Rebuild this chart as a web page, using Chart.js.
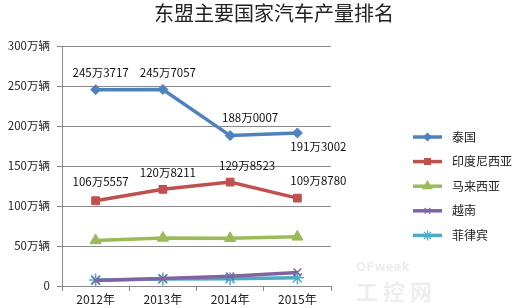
<!DOCTYPE html>
<html>
<head>
<meta charset="utf-8">
<script src="https://cdn.jsdelivr.net/npm/chart.js@4"></script>
<style>
  html, body { margin: 0; padding: 0; background: #fff; }
  #wrap { width: 523px; height: 308px; }
</style>
</head>
<body>
<div id="wrap"><canvas id="c" width="523" height="308"></canvas></div>
<script>
// data (万辆)
const years = ['2012年', '2013年', '2014年', '2015年'];
const countries = ['泰国', '印度尼西亚', '马来西亚', '越南', '菲律宾'];
const thailand = [245.3717, 245.7057, 188.0007, 191.3002];
const indonesia = [106.5557, 120.8211, 129.8523, 109.8780];
const malaysia = [56.96, 60.14, 59.64, 61.47];
const vietnam = [7.0, 9.3, 12.1, 17.0];
const philippines = [7.5, 8.9, 9.2, 10.2];
const thailandLabels = ['245万3717', '245万7057', '188万0007', '191万3002'];
const indonesiaLabels = ['106万5557', '120万8211', '129万8523', '109万8780'];
const yTicks = [0, 50, 100, 150, 200, 250, 300];

const colors = ['#4F81BD', '#C0504D', '#9BBB59', '#8064A2', '#4BACC6'];
const markers = ['rectRot', 'rect', 'triangle', 'crossRot', 'star'];
const markerSize = [5, 5.5, 6.5, 5.5, 6.5];
const FONT = '"Noto Sans CJK SC", "DejaVu Sans", sans-serif';

// label offsets relative to each point [dx, dy]
const thaiOff = [[5, -17], [5, -17], [20, -18], [21, 14]];
const indoOff = [[5, -19], [5, -17], [17, -16], [21, -17]];

function ds(i, data) {
  return {
    label: countries[i],
    data: data,
    borderColor: colors[i],
    backgroundColor: colors[i],
    borderWidth: 3.5,
    pointStyle: markers[i],
    pointRadius: markerSize[i],
    pointBorderWidth: (i >= 3) ? 1.5 : 1,
    pointBorderColor: colors[i],
    pointBackgroundColor: colors[i],
    tension: 0
  };
}

const extras = {
  id: 'extras',
  afterDraw(chart) {
    const ctx = chart.ctx;
    ctx.save();
    // title
    ctx.fillStyle = '#222';
    ctx.font = '20px ' + FONT;
    ctx.textAlign = 'center';
    ctx.textBaseline = 'middle';
    ctx.fillText('东盟主要国家汽车产量排名', 274, 13);

    // data labels
    ctx.font = '11.5px ' + FONT;
    ctx.fillStyle = '#111';
    const sets = [[0, thailandLabels, thaiOff], [1, indonesiaLabels, indoOff]];
    sets.forEach(([di, labels, off]) => {
      chart.getDatasetMeta(di).data.forEach((pt, j) => {
        ctx.fillText(labels[j], pt.x + off[j][0], pt.y + off[j][1]);
      });
    });

    // legend
    const lx = 413, lw = 29, tx = 452;
    const ly0 = 137, step = 24.6;
    countries.forEach((name, i) => {
      const y = ly0 + i * step;
      ctx.strokeStyle = colors[i];
      ctx.lineWidth = 3.5;
      ctx.beginPath();
      ctx.moveTo(lx, y);
      ctx.lineTo(lx + lw, y);
      ctx.stroke();
      ctx.fillStyle = colors[i];
      ctx.lineWidth = 1.3;
      Chart.helpers.drawPoint(ctx, { pointStyle: markers[i], radius: markerSize[i] - 1.5, rotation: 0, borderWidth: 1.3 }, lx + lw / 2, y);
      ctx.fillStyle = '#222';
      ctx.font = '12px ' + FONT;
      ctx.textAlign = 'left';
      ctx.fillText(name, tx, y);
    });

    // faint watermark
    ctx.fillStyle = 'rgba(205,205,205,0.35)';
    ctx.font = 'bold 12px "DejaVu Sans", sans-serif';
    ctx.fillText('OFweek', 356, 268);
    ctx.font = 'bold 22px ' + FONT;
    ctx.fillText('工 控 网', 356, 292);
    ctx.restore();
  }
};

new Chart(document.getElementById('c'), {
  type: 'line',
  data: {
    labels: years,
    datasets: [ds(0, thailand), ds(1, indonesia), ds(2, malaysia), ds(3, vietnam), ds(4, philippines)]
  },
  options: {
    responsive: false,
    animation: false,
    devicePixelRatio: 1,
    layout: { padding: { left: 0, right: 192, top: 46, bottom: 0 } },
    plugins: { legend: { display: false }, tooltip: { enabled: false }, title: { display: false } },
    scales: {
      x: {
        offset: true,
        grid: { drawOnChartArea: false, drawTicks: true, tickLength: 5, color: '#8a8a8a', offset: true },
        border: { color: '#8a8a8a', width: 1 },
        ticks: { color: '#222', font: { family: FONT, size: 12 }, padding: 1 },
        afterFit(s) { s.height = 22; }
      },
      y: {
        min: 0, max: 300,
        afterBuildTicks(s) { s.ticks = yTicks.map(v => ({ value: v })); },
        grid: { color: '#8a8a8a', lineWidth: 1, tickLength: 5 },
        border: { color: '#8a8a8a', width: 1 },
        ticks: {
          color: '#222',
          font: { family: FONT, size: 11.5 },
          padding: 7,
          callback: v => v === 0 ? '0' : v + '万辆'
        },
        afterFit(s) { s.width = 62; }
      }
    }
  },
  plugins: [extras]
});
</script>
</body>
</html>
